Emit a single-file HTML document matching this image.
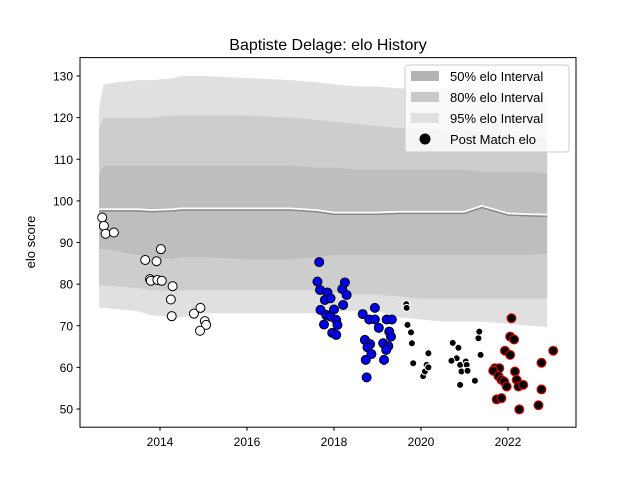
<!DOCTYPE html>
<html><head><meta charset="utf-8"><style>
body{margin:0;background:#fff}
svg text{font-family:"Liberation Sans","DejaVu Sans",sans-serif}
</style></head><body>
<svg id="chart" width="640" height="480" viewBox="0 0 640 480">
<rect width="640" height="480" fill="#fff"/>
<text x="328" y="50" font-size="16" text-anchor="middle">Baptiste Delage: elo History</text>
<g id="bands"></g>
<g id="points"></g>
<rect x="80" y="57.6" width="496" height="369.6" fill="none" stroke="#000" stroke-width="1"/>
<g id="axes"></g>
<text transform="translate(35,242) rotate(-90)" font-size="13" text-anchor="middle">elo score</text>
<g>
<rect x="405" y="65" width="164" height="87" rx="3" fill="#fff" fill-opacity="0.8" stroke="#ccc"/>
<rect x="411" y="71" width="28" height="10" fill="#b3b3b3"/>
<text x="450" y="81" font-size="13">50% elo Interval</text>
<rect x="411" y="92" width="28" height="10" fill="#c8c8c8"/>
<text x="450" y="102" font-size="13">80% elo Interval</text>
<rect x="411" y="113" width="28" height="10" fill="#e0e0e0"/>
<text x="450" y="123" font-size="13">95% elo Interval</text>
<circle cx="425" cy="139" r="5.5" fill="#000"/>
<text x="450" y="144" font-size="13">Post Match elo</text>
</g>
</svg>
<script>
const bandDates=[2012.6,2012.7,2013.0,2013.5,2013.8,2014.3,2014.5,2015.0,2016.0,2017.0,2017.6,2018.0,2018.5,2019.0,2019.5,2020.0,2020.5,2021.0,2021.4,2022.0,2022.5,2022.9];
const upper95=[122,128,128.5,129,129,129.5,130,130,129.5,129,128.5,128,127.5,127.5,127,127,127,127,126.5,126,125.5,125];
const upper80=[117.5,120,120,120,120,120.5,120.5,120.5,120.5,120,119.5,119,118.5,118,117.5,117.5,117,117,116.5,116,115.5,115];
const upper50=[106,108.5,108.5,108.5,108.5,108.5,108.5,108.5,108.5,108.5,108,108,107.5,107.5,107.5,107.5,107.5,107.5,107,107,107,106.5];
const median=[97.6,97.6,97.6,97.6,97.4,97.6,97.8,97.8,97.8,97.8,97.4,96.8,96.8,96.8,97.0,97.0,97.0,97.0,98.4,96.6,96.4,96.3];
const lower50=[88.2,88.5,88,87,86.5,86,86.5,86.5,86,86,86.5,87,87,87,87,87,87,87,87,87,87,87.5];
const lower80=[79.8,79.8,79.5,79,78.5,78.5,78.5,78.5,78.5,78.5,78.5,78,77.5,77.5,77,76.5,76.5,76.5,76.5,76.5,76.5,76.5];
const lower95=[74.3,74.3,74,73.5,72.5,72,72,73,73,73,73,73.5,73.5,73.5,72,71.5,71,71,71,70.5,70,69.7];
const whiteDates=[2012.67,2012.71,2012.75,2012.94,2014.02,2013.66,2013.92,2013.77,2013.79,2013.94,2014.04,2014.29,2014.25,2014.27,2014.78,2014.93,2015.03,2015.06,2014.92];
const whiteVals=[96.0,94.0,92.1,92.4,88.4,85.8,85.5,81.2,80.8,81.0,80.8,79.5,76.3,72.3,72.9,74.3,71.1,70.2,68.8];
const blueDates=[2017.66,2017.62,2017.68,2017.85,2017.79,2017.92,2017.69,2017.82,2018.0,2017.92,2018.05,2017.77,2018.08,2017.96,2018.05,2018.19,2018.25,2018.29,2018.21,2018.66,2018.94,2018.81,2018.94,2019.03,2019.21,2019.33,2019.27,2019.31,2018.71,2018.83,2018.77,2019.13,2019.25,2019.2,2018.86,2018.73,2019.15,2018.75];
const blueVals=[85.3,80.6,78.6,78.0,76.2,76.6,73.8,72.6,73.9,72.2,71.4,70.3,70.2,68.3,67.8,78.8,80.4,77.4,75.0,72.8,74.3,71.5,71.5,69.5,71.5,71.5,68.6,67.4,66.6,65.6,64.8,65.8,65.1,64.2,63.2,61.8,61.8,57.6];
const blackDates=[2019.66,2019.67,2019.69,2019.77,2019.79,2019.82,2020.05,2020.09,2020.13,2020.17,2020.17,2020.73,2020.86,2020.82,2020.7,2020.9,2021.03,2021.05,2020.93,2021.07,2020.9,2021.24,2021.32,2021.34,2021.37];
const blackVals=[75.2,74.3,70.2,68.4,65.8,61.0,57.9,59.0,60.6,60.0,63.4,65.9,64.7,62.2,61.6,60.6,61.4,60.6,59.0,59.2,55.8,56.8,67.0,68.6,63.0];
const redDates=[2022.08,2022.05,2022.14,2021.93,2022.05,2021.7,2021.8,2021.66,2021.78,2021.85,2021.91,2021.97,2022.16,2022.2,2022.24,2022.35,2021.74,2021.85,2022.26,2022.77,2023.04,2022.77,2022.7];
const redVals=[71.8,67.4,66.7,64.0,63.0,59.8,59.8,59.2,57.9,57.0,56.6,55.4,59.0,57.0,55.4,55.8,52.3,52.6,49.9,61.1,64.0,54.7,50.9];
const xTicks=[2014,2016,2018,2020,2022];
const yTicks=[50,60,70,80,90,100,110,120,130];

const NS='http://www.w3.org/2000/svg';
const xs=d=>160+(d-2014)*43.5;
const ys=v=>409-(v-50)*4.1625;
function mk(tag,attrs,parent){const e=document.createElementNS(NS,tag);for(const k in attrs)e.setAttribute(k,attrs[k]);parent.appendChild(e);return e;}
const bands=document.getElementById('bands');
function area(up,lo,fill,name){
  let d='M'+bandDates.map((t,i)=>xs(t)+','+ys(up[i])).join('L');
  d+='L'+bandDates.map((t,i)=>xs(t)+','+ys(lo[i])).reverse().join('L')+'Z';
  const p=mk('path',{d:d,fill:fill},bands);
  
  
}
area(upper95,lower95,'#e0e0e0','band-95');
area(upper80,lower80,'#cdcdcd','band-80');
area(upper50,lower50,'#bebebe','band-50');
const wl=mk('polyline',{points:bandDates.map((t,i)=>xs(t)+','+(ys(median[i])-1.5)).join(' '),fill:'none',stroke:'#fff','stroke-width':2},bands);


const ml=mk('polyline',{points:bandDates.map((t,i)=>xs(t)+','+ys(median[i])).join(' '),fill:'none',stroke:'#888','stroke-width':1.5},bands);



const pts=document.getElementById('points');
function scatter(dates,vals,fill,stroke,r,name){
  dates.forEach((t,i)=>{
    const c=mk('circle',{cx:xs(t),cy:ys(vals[i]),r:r,fill:fill,stroke:stroke,'stroke-width':1},pts);
    
    
  });
}
scatter(whiteDates,whiteVals,'#fff','#000',4.5,'point-white');
scatter(blueDates,blueVals,'#0000ee','#000',4.5,'point-blue');
scatter(blackDates,blackVals,'#000','#fff',3.5,'point-black');
scatter(redDates,redVals,'#000','#f00',4.5,'point-red');

const axes=document.getElementById('axes');
xTicks.forEach(t=>{
  mk('line',{x1:xs(t),x2:xs(t),y1:427.2,y2:430.7,stroke:'#000'},axes);
  const tx=mk('text',{x:xs(t),y:446,'font-size':12,'text-anchor':'middle'},axes);
  tx.textContent=t;
  
  
});
yTicks.forEach(v=>{
  mk('line',{x1:76.5,x2:80,y1:ys(v),y2:ys(v),stroke:'#000'},axes);
  const tx=mk('text',{x:73,y:ys(v)+4.5,'font-size':12,'text-anchor':'end'},axes);
  tx.textContent=v;
  
  
});
</script>
</body></html>
